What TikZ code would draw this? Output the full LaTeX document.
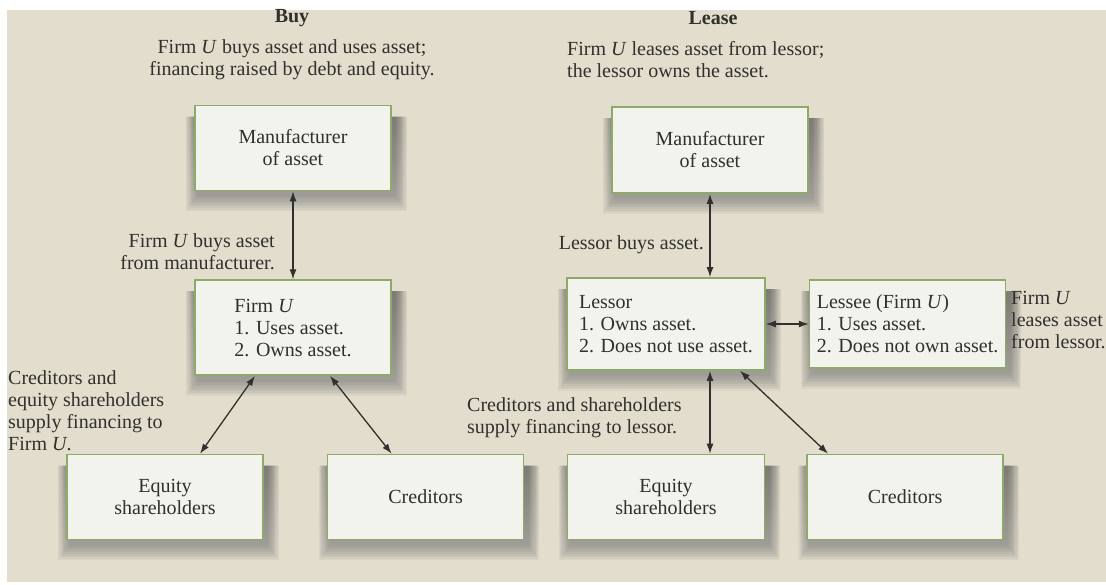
\documentclass[tikz,border=0pt]{standalone}
\usepackage{fontspec}
\setmainfont{Liberation Serif}
\usepackage{tikz}
\usetikzlibrary{arrows.meta, positioning, backgrounds}

\definecolor{paper}{RGB}{226,221,204}
\definecolor{boxfill}{RGB}{242,243,237}
\definecolor{boxline}{RGB}{141,170,106}
\definecolor{ink}{RGB}{48,48,46}
\definecolor{shade}{RGB}{80,72,60}

\begin{document}
\begin{tikzpicture}[x=1pt, y=1pt, >=Latex,
    every node/.style={text=ink, font=\fontsize{20}{22}\selectfont},
    box/.style={rectangle, draw=boxline, line width=1.6pt, fill=boxfill, align=center,
        minimum width=196pt, minimum height=85pt, inner sep=4pt},
    note/.style={inner sep=0pt},
    head/.style={inner sep=0pt, font=\fontsize{20}{22}\selectfont\bfseries},
    link/.style={{Latex[length=10pt,width=7pt]}-{Latex[length=10pt,width=7pt]}, line width=1.3pt, draw=ink}]

    \useasboundingbox (0,0) rectangle (1106,-585);

    % Headings
    \node (buy) [head] at (292,-18) {Buy};
    \node (lease) [head] at (713,-18) {Lease};
    \node (buy_note) [note, align=center] at (292,-60) {Firm \textit{U} buys asset and uses asset;\\financing raised by debt and equity.};
    \node (lease_note) [note, align=left, anchor=west] at (567,-60) {Firm \textit{U} leases asset from lessor;\\the lessor owns the asset.};

    % Buy side
    \node (mfg_buy) [box] at (293,-148) {Manufacturer\\of asset};
    \node (firm_u) [box, minimum height=95pt, below=88pt of mfg_buy, align=left] {Firm \textit{U}\\1. Uses asset.\\2. Owns asset.};
    \node (eq_buy) [box] at (165,-497) {Equity\\shareholders};
    \node (cred_buy) [box, right=63pt of eq_buy] {Creditors};

    % Lease side
    \node (mfg_lease) [box, minimum height=86pt] at (710,-150) {Manufacturer\\of asset};
    \node (lessor) [box, minimum width=198pt, minimum height=92pt, align=left] at (666,-324) {Lessor\\1. Owns asset.\\2. Does not use asset.};
    \node (lessee) [box, right=43pt of lessor, minimum height=88pt, align=left] {Lessee (Firm \textit{U})\\1. Uses asset.\\2. Does not own asset.};
    \node (eq_lease) [box, minimum width=197pt] at (666,-497) {Equity\\shareholders};
    \node (cred_lease) [box, right=41pt of eq_lease] {Creditors};

    % Side notes
    \node (mfg_note) [note, align=right, anchor=east] at (275,-252) {Firm \textit{U} buys asset\\from manufacturer.};
    \node (lessor_note) [note, anchor=east] at (704,-245) {Lessor buys asset.};
    \node (lessee_note) [note, align=left, anchor=west] at (1011,-320) {Firm \textit{U}\\leases asset\\from lessor.};
    \node (fin_buy_note) [note, align=left, anchor=north west] at (8,-370) {Creditors and\\equity shareholders\\supply financing to\\Firm \textit{U}.};
    \node (fin_lease_note) [note, align=left, anchor=west] at (467,-418) {Creditors and shareholders\\supply financing to lessor.};

    % Connections
    \draw[link] (mfg_buy) -- (firm_u);
    \draw[link] ([xshift=-38pt]firm_u.south) -- ([xshift=35pt]eq_buy.north);
    \draw[link] ([xshift=37pt]firm_u.south) -- ([xshift=-34pt]cred_buy.north);

    \draw[link] (mfg_lease.south) -- (mfg_lease.south |- lessor.north);
    \draw[link] (lessor) -- (lessee);
    \draw[link] (lessor.south -| mfg_lease) -- (eq_lease.north -| mfg_lease);
    \draw[link] ([xshift=74pt]lessor.south) -- ([xshift=-77pt]cred_lease.north);

    % paper and soft shadows under the boxes
    \begin{scope}[on background layer]
        \fill[paper] (7,-10) rectangle (1106,-582);
        \foreach \n in {mfg_buy, firm_u, eq_buy, cred_buy, mfg_lease, lessor, lessee, eq_lease, cred_lease}
            \foreach \k in {1,...,10}
                \fill[shade, opacity=0.045] ([shift={(4-1.2*\k,-4-1.6*\k)}]\n.south west) rectangle ([shift={(3+1.2*\k,-12)}]\n.north east);
    \end{scope}

\end{tikzpicture}
\end{document}
